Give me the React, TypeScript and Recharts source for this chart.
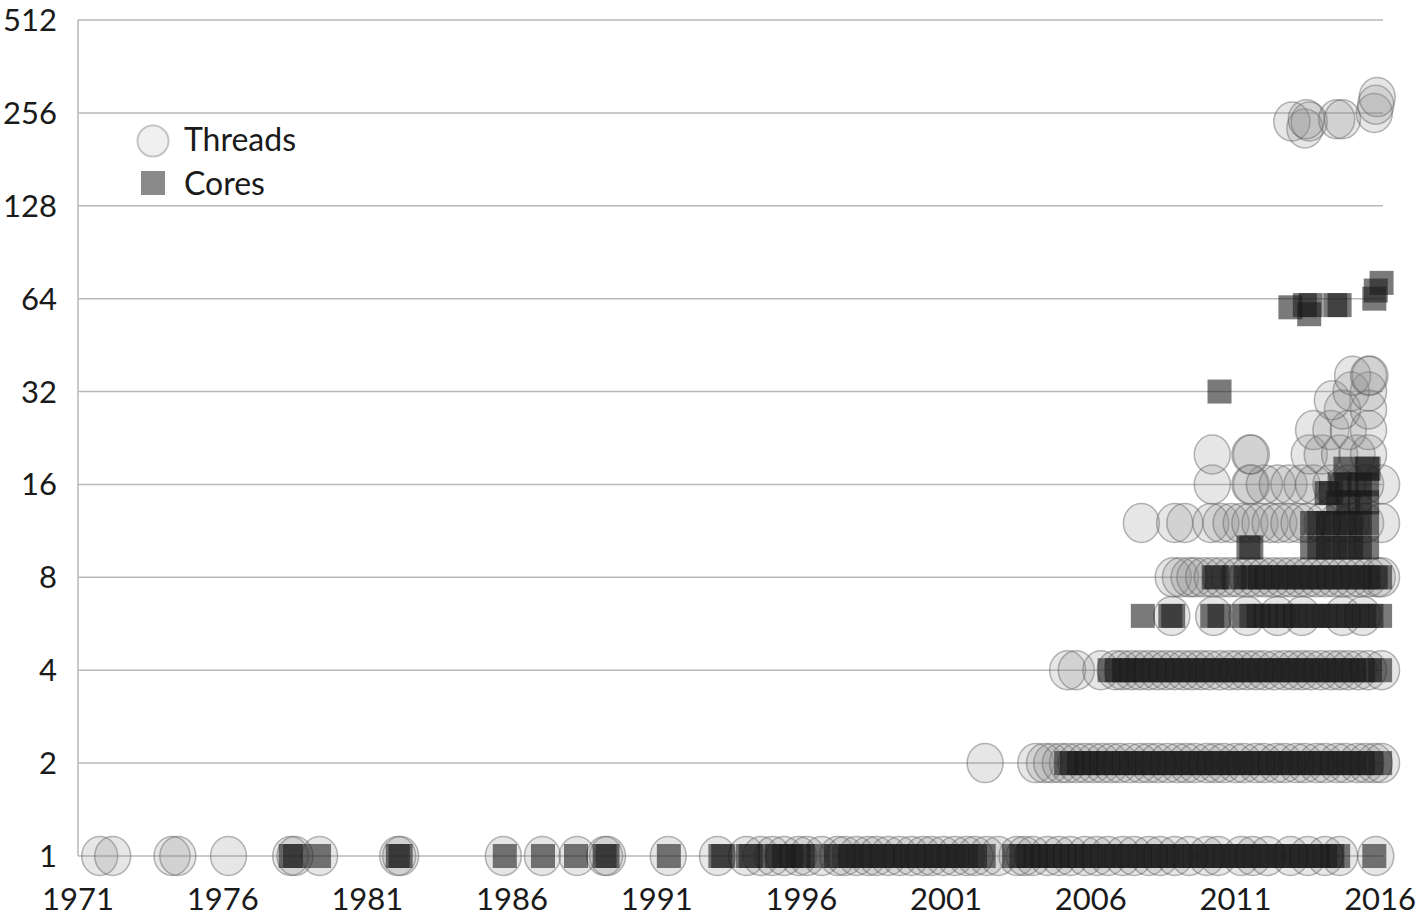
import React from "react";
import { ScatterChart, Scatter, XAxis, YAxis, CartesianGrid, Legend } from "recharts";

// ---- axis ticks ----
const xTicks = [1971, 1976, 1981, 1986, 1991, 1996, 2001, 2006, 2011, 2016];
const yTicks = [1, 2, 4, 8, 16, 32, 64, 128, 256, 512];

// ---- Threads: years per thread count ----
const threads1 = [1971.75, 1972.2, 1974.25, 1974.45, 1976.2, 1978.35, 1978.5, 1979.35, 1982.05, 1982.15, 1985.7, 1987.05, 1988.25, 1989.2, 1989.3, 1991.4, 1993.1, 1994.1, 1994.6, 1995.0, 1995.4, 1995.9, 1996.2, 1996.7, 1997.25, 1997.5, 1997.9, 1998.3, 1998.6, 1999.0, 1999.4, 1999.8, 2000.2, 2000.5, 2000.9, 2001.3, 2001.7, 2002.0, 2002.4, 2002.8, 2003.45, 2003.7, 2004.0, 2004.5, 2004.9, 2005.3, 2005.8, 2006.2, 2006.6, 2007.1, 2007.5, 2008.0, 2008.4, 2008.9, 2009.4, 2010.0, 2010.4, 2011.2, 2011.6, 2012.1, 2012.9, 2013.5, 2014.1, 2014.6, 2015.85];
const threads2 = [2002.35, 2004.1, 2004.4, 2004.65, 2004.95, 2005.2, 2005.5, 2005.8, 2006.1, 2006.4, 2006.7, 2007.0, 2007.35, 2007.7, 2008.0, 2008.3, 2008.65, 2009.0, 2009.3, 2009.6, 2010.0, 2010.3, 2010.6, 2011.0, 2011.3, 2011.7, 2012.0, 2012.4, 2012.7, 2013.1, 2013.4, 2013.8, 2014.1, 2014.5, 2014.8, 2015.2, 2015.5, 2015.8, 2016.05];
const threads4 = [2005.2, 2005.5, 2006.35, 2006.85, 2007.1, 2007.4, 2007.7, 2008.0, 2008.3, 2008.6, 2008.9, 2009.2, 2009.5, 2009.8, 2010.1, 2010.45, 2010.8, 2011.1, 2011.4, 2011.7, 2012.0, 2012.35, 2012.7, 2013.0, 2013.3, 2013.6, 2013.95, 2014.3, 2014.6, 2014.9, 2015.25, 2015.6, 2016.05];
const threads6 = [2008.8, 2010.25, 2011.4, 2012.45, 2013.3, 2014.7, 2015.4];
const threads8 = [2008.85, 2009.1, 2009.4, 2009.6, 2009.9, 2010.2, 2010.5, 2010.8, 2011.1, 2011.4, 2011.7, 2012.0, 2012.3, 2012.6, 2012.9, 2013.2, 2013.5, 2013.8, 2014.1, 2014.4, 2014.7, 2015.0, 2015.3, 2015.6, 2015.9, 2016.05];
const threads12 = [2007.75, 2008.9, 2009.25, 2010.15, 2010.5, 2010.85, 2011.2, 2011.5, 2011.85, 2012.2, 2012.5, 2012.85, 2013.2, 2013.5, 2014.0, 2014.5, 2015.0, 2015.5, 2016.05];
const threads16 = [2010.2, 2011.5, 2011.55, 2012.0, 2012.45, 2012.85, 2013.3, 2013.7, 2014.3, 2014.9, 2015.5, 2016.05];
const threads20 = [2010.2, 2011.5, 2011.55, 2013.55, 2014.0, 2014.6, 2015.2, 2015.6];
const threads24 = [2013.7, 2014.3, 2014.9, 2015.6];
const threads28 = [2014.7, 2015.6];
const threads30 = [2014.35];
const threads32 = [2015.0, 2015.6];
const threads36 = [2015.05, 2015.6, 2015.65];
const threads228 = [2013.4];
const threads240 = [2012.95, 2013.55];
const threads244 = [2013.45, 2014.5, 2014.7];
const threads256 = [2015.8];
const threads272 = [2015.85];
const threads288 = [2015.9];

// ---- Cores: years per core count ----
const cores1 = [1978.35, 1978.5, 1979.33, 1982.05, 1982.15, 1985.75, 1987.07, 1988.21, 1989.2, 1989.3, 1991.42, 1993.2, 1993.3, 1994.15, 1994.25, 1994.9, 1995.15, 1995.4, 1995.65, 1995.9, 1996.05, 1996.6, 1997.2, 1997.45, 1997.7, 1998.0, 1998.25, 1998.5, 1998.8, 1999.05, 1999.3, 1999.6, 1999.85, 2000.1, 2000.4, 2000.65, 2000.9, 2001.2, 2001.45, 2001.7, 2002.0, 2002.3, 2003.35, 2003.6, 2003.85, 2004.1, 2004.35, 2004.6, 2004.85, 2005.1, 2005.35, 2005.6, 2005.85, 2006.1, 2006.4, 2006.65, 2006.9, 2007.2, 2007.45, 2007.7, 2008.0, 2008.25, 2008.5, 2008.8, 2009.05, 2009.3, 2009.6, 2009.85, 2010.1, 2010.4, 2010.65, 2010.9, 2011.2, 2011.45, 2011.7, 2012.0, 2012.25, 2012.5, 2012.8, 2013.05, 2013.3, 2013.6, 2013.85, 2014.1, 2014.35, 2014.55, 2015.8];
const cores2 = [2005.15, 2005.35, 2005.6, 2005.85, 2006.1, 2006.35, 2006.6, 2006.9, 2007.15, 2007.4, 2007.7, 2007.95, 2008.2, 2008.5, 2008.75, 2009.0, 2009.3, 2009.55, 2009.8, 2010.1, 2010.35, 2010.6, 2010.9, 2011.15, 2011.4, 2011.7, 2011.95, 2012.2, 2012.5, 2012.75, 2013.0, 2013.3, 2013.55, 2013.8, 2014.1, 2014.35, 2014.6, 2014.9, 2015.15, 2015.4, 2015.7, 2016.0];
const cores4 = [2006.65, 2006.9, 2007.15, 2007.4, 2007.65, 2007.9, 2008.2, 2008.45, 2008.7, 2009.0, 2009.25, 2009.5, 2009.8, 2010.05, 2010.3, 2010.6, 2010.85, 2011.1, 2011.4, 2011.65, 2011.9, 2012.2, 2012.45, 2012.7, 2013.0, 2013.25, 2013.5, 2013.8, 2014.05, 2014.3, 2014.6, 2014.85, 2015.1, 2015.4, 2015.65, 2016.0];
const cores6 = [2007.8, 2008.75, 2008.85, 2010.2, 2010.45, 2011.3, 2011.55, 2011.8, 2012.05, 2012.3, 2012.55, 2012.8, 2013.05, 2013.3, 2013.6, 2013.85, 2014.1, 2014.4, 2014.65, 2014.9, 2015.2, 2015.45, 2015.7, 2016.0];
const cores8 = [2010.25, 2010.35, 2010.95, 2011.35, 2011.6, 2011.85, 2012.1, 2012.4, 2012.65, 2012.9, 2013.2, 2013.45, 2013.7, 2014.0, 2014.25, 2014.5, 2014.8, 2015.05, 2015.3, 2015.6, 2015.85, 2016.0];
const cores10 = [2011.45, 2011.55, 2013.65, 2013.9, 2014.2, 2014.45, 2014.75, 2015.0, 2015.3, 2015.55];
const cores12 = [2013.65, 2013.9, 2014.2, 2014.45, 2014.75, 2015.0, 2015.3, 2015.55];
const cores14 = [2014.55, 2014.9, 2015.3, 2015.55];
const cores15 = [2014.15, 2014.3];
const cores16 = [2014.6, 2014.85, 2015.3, 2015.55];
const cores18 = [2014.8, 2015.55, 2015.6];
const cores32 = [2010.45];
const cores57 = [2013.55];
const cores60 = [2012.9];
const cores61 = [2013.4, 2013.6, 2014.45, 2014.6];
const cores64 = [2015.8];
const cores68 = [2015.85];
const cores72 = [2016.05];

const threadRows: Array<[number, number[]]> = [
  [1, threads1], [2, threads2], [4, threads4], [6, threads6], [8, threads8], [12, threads12],
  [16, threads16], [20, threads20], [24, threads24], [28, threads28], [30, threads30], [32, threads32],
  [36, threads36], [228, threads228], [240, threads240], [244, threads244], [256, threads256],
  [272, threads272], [288, threads288],
];
const coreRows: Array<[number, number[]]> = [
  [1, cores1], [2, cores2], [4, cores4], [6, cores6], [8, cores8], [10, cores10], [12, cores12],
  [14, cores14], [15, cores15], [16, cores16], [18, cores18], [32, cores32], [57, cores57],
  [60, cores60], [61, cores61], [64, cores64], [68, cores68], [72, cores72],
];

const toPoints = (rows: Array<[number, number[]]>) =>
  rows.flatMap(([value, years]) => years.map((year) => ({ year, value })));

const threadsData = toPoints(threadRows);
const coresData = toPoints(coreRows);

const FONT = "Lato, 'Open Sans', sans-serif";

const CircleMark = (props: any) => {
  const { cx, cy } = props;
  if (cx == null || cy == null) return null;
  return (
    <ellipse
      cx={cx}
      cy={cy}
      rx={18}
      ry={19.5}
      fill="#8a8a8a"
      fillOpacity={0.21}
      stroke="#606060"
      strokeOpacity={0.45}
      strokeWidth={1.5}
    />
  );
};

const SquareMark = (props: any) => {
  const { cx, cy } = props;
  if (cx == null || cy == null) return null;
  return <rect x={cx - 12} y={cy - 12} width={24} height={24} fill="#1a1a1a" fillOpacity={0.58} />;
};

const LegendContent = () => (
  <svg width={200} height={95} style={{ display: "block" }}>
    <circle cx={23} cy={26} r={15.5} fill="#f0f0f0" stroke="#c4c4c4" strokeWidth={2} />
    <text x={54} y={36} fontFamily={FONT} fontSize={32} fill="#1a1a1a">Threads</text>
    <rect x={11} y={56} width={24} height={24} fill="#8a8a8a" />
    <text x={54} y={80} fontFamily={FONT} fontSize={32} fill="#1a1a1a">Cores</text>
  </svg>
);

export default function App() {
  return (
    <div style={{ position: "absolute", left: 0, top: 0, background: "#fff" }}>
      <ScatterChart width={1427} height={920} margin={{ top: 20, right: 44, bottom: 0, left: 0 }}>
        <CartesianGrid vertical={false} stroke="#b9b9b9" strokeWidth={1.5} />
        <XAxis
          type="number"
          dataKey="year"
          domain={[1971, 2016.1]}
          ticks={xTicks}
          axisLine={false}
          tickLine={false}
          tickSize={0}
          tickMargin={32}
          height={64}
          interval={0}
          tick={{ fontFamily: FONT, fontSize: 31, fill: "#1a1a1a" }}
        />
        <YAxis
          type="number"
          dataKey="value"
          scale="log"
          domain={[1, 512]}
          ticks={yTicks}
          width={78}
          interval={0}
          axisLine={{ stroke: "#b9b9b9", strokeWidth: 1.5 }}
          tickLine={false}
          tickSize={0}
          tickMargin={21}
          tick={{ fontFamily: FONT, fontSize: 31, fill: "#1a1a1a" }}
        />
        <Legend
          layout="vertical"
          align="center"
          verticalAlign="middle"
          content={<LegendContent />}
          wrapperStyle={{ position: "absolute", left: 130, top: 115, width: 200, height: 95 }}
        />
        <Scatter name="Threads" data={threadsData} shape={<CircleMark />} isAnimationActive={false} />
        <Scatter name="Cores" data={coresData} shape={<SquareMark />} isAnimationActive={false} />
      </ScatterChart>
    </div>
  );
}
